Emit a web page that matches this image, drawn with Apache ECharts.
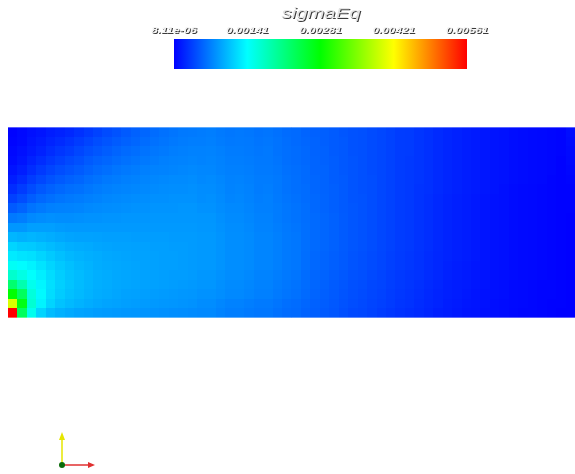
<!DOCTYPE html>
<html>
<head>
<meta charset="utf-8">
<script src="https://cdn.jsdelivr.net/npm/echarts@6/dist/echarts.min.js"></script>
<style>
  html, body { margin: 0; background: #fff; }
  #chart { width: 575px; height: 474px; }
</style>
</head>
<body>
<div id="chart"></div>
<script>
// sigmaEq per mesh cell, in units of 1e-5, one row per mesh row, top row first
const sigmaRows = [
  [2,5,9,12,16,19,22,27,32,37,42,46,50,54,57,60,63,65,67,68, 69,70,68,66,67,66,64,65,63,60,59,56,54,53,51,48,46,45,42,40,37,34,33,30,27,24,21,19,17,15,13,11,10,8,7,6,5,4,3,8],
  [3,6,11,15,20,24,28,33,38,43,47,51,54,57,60,63,65,67,69,70, 70,71,69,67,68,67,65,66,64,61,59,57,55,53,51,49,46,45,42,40,37,34,33,30,27,24,21,19,17,15,13,11,10,8,7,6,5,4,3,7],
  [5,9,14,19,25,30,34,39,44,48,52,56,59,61,64,66,68,70,71,72, 72,73,71,69,69,68,66,67,64,62,60,58,55,54,51,49,46,45,42,40,37,34,33,30,27,24,21,19,17,15,13,11,10,8,7,6,5,4,3,6],
  [7,12,19,25,31,36,41,45,50,54,57,60,63,65,67,69,71,72,73,74, 73,74,72,70,70,69,67,67,65,62,60,58,56,54,52,49,47,45,42,40,37,34,32,30,27,24,21,19,17,15,13,11,10,8,7,6,5,4,2,5],
  [11,17,25,32,38,43,47,51,55,59,62,65,67,69,71,72,73,74,75,76, 75,75,73,71,71,70,68,68,66,63,61,59,56,55,52,49,47,45,42,40,37,34,32,30,27,24,21,19,17,15,13,11,10,8,7,6,5,4,2,4],
  [17,24,33,40,46,50,54,57,61,64,67,69,71,72,74,75,76,77,77,78, 76,77,75,72,73,71,69,69,67,64,62,59,57,55,52,50,47,45,43,40,37,34,32,30,27,24,21,19,17,15,13,11,10,8,7,6,5,3,2,3],
  [25,33,42,49,54,58,61,63,66,69,71,73,74,75,76,77,78,79,79,80, 78,78,76,73,74,72,69,70,67,64,62,60,57,55,53,50,47,45,43,40,37,34,32,29,27,24,21,19,17,15,13,11,9,7,6,5,4,3,2,2],
  [36,43,52,58,62,65,67,69,71,73,75,76,77,78,79,80,80,81,81,81, 79,80,77,74,75,73,70,71,68,65,63,60,58,56,53,50,47,46,43,40,37,34,32,29,26,23,20,18,16,14,12,10,9,7,6,5,4,3,2,2],
  [50,56,64,68,71,72,73,74,76,77,78,79,80,81,81,82,82,82,83,83, 81,81,78,76,76,74,71,71,69,66,64,61,58,56,53,50,48,46,43,40,37,34,32,29,26,23,20,18,16,14,12,10,9,7,6,5,4,3,2,2],
  [67,70,76,78,80,79,79,80,81,81,82,82,83,83,83,84,84,84,84,84, 83,83,80,77,77,75,72,72,69,66,64,61,59,57,54,51,48,46,43,40,37,34,32,29,26,23,20,18,16,14,12,10,9,7,6,5,4,3,2,1],
  [84,84,88,88,88,86,85,85,85,85,85,85,85,85,85,85,85,85,85,85, 84,84,81,78,78,76,73,73,70,67,65,62,59,57,54,51,48,46,43,40,37,34,32,29,26,23,20,18,16,14,12,10,9,7,6,5,4,3,2,1],
  [101,98,100,98,96,93,91,90,90,89,88,88,88,87,87,87,87,86,86,86, 85,85,82,79,79,77,74,74,71,68,66,62,59,57,54,51,48,46,43,40,37,34,32,29,26,23,20,18,16,14,12,10,9,7,6,5,4,3,2,1],
  [118,113,112,108,104,100,97,95,94,92,91,90,90,89,89,88,88,87,87,86, 85,85,82,79,79,77,74,74,71,68,66,62,59,57,54,51,48,46,43,40,37,34,32,29,26,23,20,18,16,14,12,10,9,7,6,5,4,3,2,1],
  [130,126,124,118,112,106,102,99,97,95,93,92,91,90,90,89,88,88,87,86, 85,85,82,79,79,77,74,74,71,68,66,61,58,56,53,50,47,45,42,39,36,33,31,28,25,22,20,18,16,14,12,10,9,7,6,5,4,3,2,1],
  [146,140,134,126,118,111,106,102,99,96,94,93,92,91,90,89,88,88,87,86, 85,85,82,79,79,77,74,74,71,68,66,61,58,56,53,50,47,45,42,39,36,33,31,28,25,22,19,17,15,13,12,10,9,7,6,5,4,3,2,1],
  [168,155,142,132,122,114,108,104,100,97,95,93,92,91,90,89,88,87,87,86, 84,84,81,78,78,76,73,73,70,67,65,60,57,55,52,49,46,44,41,38,35,32,30,28,25,22,19,17,15,13,11,9,8,7,6,5,4,3,2,1],
  [220,185,150,136,124,115,109,104,100,97,95,93,92,91,90,89,88,87,86,85, 83,83,80,77,77,75,72,72,69,66,64,60,57,54,51,48,45,43,40,38,35,32,30,27,24,21,18,16,15,13,11,9,8,6,5,4,3,3,2,1],
  [280,230,160,138,122,113,107,103,99,96,94,92,90,89,88,87,86,85,84,83, 81,81,79,76,76,74,71,71,68,65,63,59,56,53,50,47,44,42,39,37,34,31,29,26,23,20,18,16,14,12,10,9,8,6,5,4,3,3,2,1],
  [400,270,165,135,118,108,103,99,96,93,91,90,88,87,86,85,84,83,82,81, 78,78,75,72,72,70,68,68,65,62,60,57,54,52,49,46,43,41,38,36,33,30,28,25,22,20,17,15,13,12,10,8,7,6,5,4,3,2,2,1],
  [561,230,150,118,104,98,94,91,89,87,86,85,84,83,82,81,80,79,78,77, 76,76,73,70,70,68,66,66,63,60,59,55,53,50,48,44,41,40,37,34,31,28,26,24,21,18,16,14,12,11,9,8,7,5,4,4,3,2,1,1]
];
const UNIT = 1e-5;
const rangeMin = 8.11e-6;
const rangeMax = 0.00561;
const barTicks = ["8.11e-06", "0.00141", "0.00281", "0.00421", "0.00561"];
const rampColors = ["#0000ff", "#00ffff", "#00ff00", "#ffff00", "#ff0000"];
const fieldName = "sigmaEq";

const nRows = sigmaRows.length;
const cells = [];
sigmaRows.forEach((row, r) => {
  row.forEach((v, c) => cells.push([c, nRows - 1 - r, v * UNIT]));
});

const chart = echarts.init(document.getElementById("chart"));

// white text with a dark drop shadow, drawn as two layers
function shadowText(text, x, y, font, scaleX, fill) {
  const base = { text, font, align: "center", verticalAlign: "middle" };
  return [
    { type: "text", x: x + 1, y: y + 1, scaleX, style: Object.assign({ fill: "#3a3a3a" }, base) },
    { type: "text", x, y, scaleX, style: Object.assign({ fill }, base) }
  ];
}

// colour bar geometry
const bar = { x: 174, y: 39, w: 293, h: 30 };
const field = { left: 8, top: 127, width: 567, height: 191 };

let graphics = [
  ...shadowText(fieldName, 321, 14, "italic 14px 'Liberation Sans'", 1.45, "#e4e4e4"),
  {
    type: "rect",
    shape: { x: bar.x, y: bar.y, width: bar.w, height: bar.h },
    style: {
      fill: new echarts.graphic.LinearGradient(0, 0, 1, 0,
        rampColors.map((c, i) => ({ offset: i / (rampColors.length - 1), color: c })))
    }
  },
  // faint outline along the top and bottom of the mesh
  { type: "line", z: 10, shape: { x1: field.left, y1: field.top + 0.5, x2: field.left + field.width, y2: field.top + 0.5 },
    style: { stroke: "rgba(255,255,255,0.35)", lineWidth: 1 } },
  { type: "line", z: 10, shape: { x1: field.left, y1: field.top + field.height - 0.5, x2: field.left + field.width, y2: field.top + field.height - 0.5 },
    style: { stroke: "rgba(255,255,255,0.35)", lineWidth: 1 } },
  // orientation triad
  { type: "line", shape: { x1: 62, y1: 465, x2: 62, y2: 437 }, style: { stroke: "#e6e600", lineWidth: 1.5 } },
  { type: "polygon", shape: { points: [[59, 440], [65, 440], [62, 432]] }, style: { fill: "#e6e600" } },
  { type: "line", shape: { x1: 62, y1: 465, x2: 89, y2: 465 }, style: { stroke: "#e03030", lineWidth: 1.5 } },
  { type: "polygon", shape: { points: [[88, 462], [88, 468], [95, 465]] }, style: { fill: "#e03030" } },
  { type: "circle", shape: { cx: 62, cy: 465, r: 3 }, style: { fill: "#0b6b0b" } }
];
barTicks.forEach((t, i) => {
  const x = bar.x + i * bar.w / (barTicks.length - 1);
  graphics = graphics.concat(shadowText(t, x, 31, "italic bold 9px 'Liberation Sans'", 1.3, "#f4f4f4"));
});

chart.setOption({
  animation: false,
  backgroundColor: "#ffffff",
  grid: field,
  xAxis: { type: "category", data: sigmaRows[0].map((_, i) => i), show: false },
  yAxis: { type: "category", data: sigmaRows.map((_, i) => i), show: false },
  visualMap: {
    show: false,
    type: "continuous",
    min: rangeMin,
    max: rangeMax,
    dimension: 2,
    inRange: { color: rampColors }
  },
  graphic: graphics,
  series: [{
    type: "custom",
    data: cells,
    encode: { x: 0, y: 1 },
    renderItem: (params, api) => {
      const p = api.coord([api.value(0), api.value(1)]);
      const s = api.size([1, 1]);
      const x0 = Math.round(p[0] - s[0] / 2), x1 = Math.round(p[0] + s[0] / 2);
      const y0 = Math.round(p[1] - s[1] / 2), y1 = Math.round(p[1] + s[1] / 2);
      return {
        type: "rect",
        shape: { x: x0, y: y0, width: x1 - x0, height: y1 - y0 },
        style: { fill: api.visual("color") }
      };
    }
  }]
});
</script>
</body>
</html>
